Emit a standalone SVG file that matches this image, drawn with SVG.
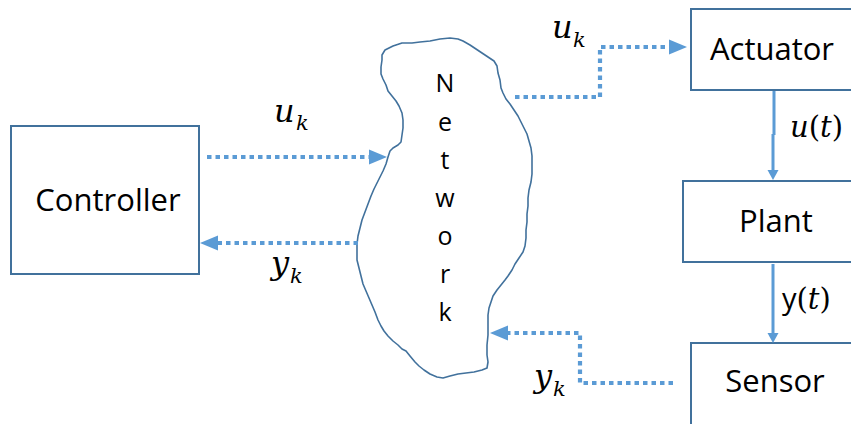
<svg xmlns="http://www.w3.org/2000/svg" width="851" height="424" viewBox="0 0 851 424">
<style>
.box{fill:#ffffff;stroke:#41719C;stroke-width:2}
.lbl{font-family:"Open Sans","Liberation Sans",sans-serif;font-size:31px;fill:#000;text-anchor:middle}
.net{font-family:"Open Sans","Liberation Sans",sans-serif;font-size:25px;fill:#000;text-anchor:middle}
.dot{fill:none;stroke:#5B9BD5;stroke-width:4.2;stroke-dasharray:4.5 4}
.sol{fill:none;stroke:#5B9BD5;stroke-width:3}
.math{font-family:"DejaVu Serif","Liberation Serif",serif;font-style:italic;fill:#000}
.up{font-family:"DejaVu Serif","Liberation Serif",serif;font-style:normal;fill:#000}
</style>
<defs>
<marker id="ahd" markerUnits="userSpaceOnUse" markerWidth="19" markerHeight="16" refX="0" refY="7.5" orient="auto" overflow="visible">
<path d="M0,0 L18,7.5 L0,15 Z" fill="#5B9BD5"/>
</marker>
<marker id="ahs" markerUnits="userSpaceOnUse" markerWidth="11" markerHeight="12" refX="0" refY="5.5" orient="auto" overflow="visible">
<path d="M0,0 L10,5.5 L0,11 Z" fill="#5B9BD5"/>
</marker>
</defs>

<g id="controller">
<rect class="box" x="11" y="126" width="188" height="148"/>
<text class="lbl" x="108" y="211">Controller</text>
</g>

<g id="network">
<path d="M385,50 L393,46 L402,43 L412,43 L420,42 L430,41 L440,39 L450,38 L458,39 L463,41 L470,45 L476,49 L482,53 L488,57 L494,61 L497,66 L498,73 L500,80 L501,88 L503,93 L506,99 L510,104 L514,110 L518,116 L521,122 L524,128 L527,134 L529,141 L531,148 L532,156 L532,165 L532,174 L531,182 L529,190 L528,198 L528,206 L527,214 L527,222 L526,230 L526,238 L525,246 L523,252 L519,258 L515,264 L512,270 L508,276 L505,280 L501,285 L497,290 L493,296 L491,302 L489,308 L488,315 L488,325 L488,335 L487,345 L487,355 L488,362 L487,368 L482,370 L474,372 L466,373 L458,374 L450,376 L443,378 L437,377 L430,374 L424,370 L419,366 L415,362 L410,356 L406,351 L402,349 L398,345 L393,341 L388,336 L384,331 L381,326 L378,320 L375,312 L372,305 L369,298 L366,291 L363,284 L361,276 L359,268 L357,260 L357,252 L357,244 L358,236 L360,228 L362,220 L365,212 L368,204 L371,196 L374,189 L377,183 L380,177 L383,171 L386,164 L388,157 L390,151 L393,148 L398,145 L401,142 L402,135 L403,128 L403,120 L402,113 L399,106 L396,101 L392,96 L388,91 L386,85 L383,79 L381,74 L381,67 L382,60 L382,55 Z" fill="#ffffff" stroke="#41719C" stroke-width="1.6" stroke-linejoin="round"/>
<text class="net" x="445" y="92">N</text>
<text class="net" x="445" y="131">e</text>
<text class="net" x="445" y="169">t</text>
<text class="net" x="445" y="207">w</text>
<text class="net" x="445" y="245">o</text>
<text class="net" x="445" y="283">r</text>
<text class="net" x="445" y="321">k</text>
</g>

<g id="actuator">
<rect class="box" x="691" y="9" width="170" height="81"/>
<text class="lbl" x="772" y="60">Actuator</text>
</g>

<g id="plant">
<rect class="box" x="683" y="181" width="178" height="81"/>
<text class="lbl" x="776" y="232">Plant</text>
</g>

<g id="sensor">
<rect class="box" x="691" y="343" width="170" height="90"/>
<text class="lbl" x="775" y="392">Sensor</text>
</g>

<g id="connectors">
<path class="dot" d="M207,157 H369" marker-end="url(#ahd)"/>
<path class="dot" d="M358,243 H218" marker-end="url(#ahd)"/>
<path class="dot" d="M515,97 H600 V47 H669" marker-end="url(#ahd)"/>
<path class="dot" d="M673,383 H580 V333 H508" marker-end="url(#ahd)"/>
<path class="sol" d="M774,91 V135"/>
<path class="sol" d="M773,134 V170" marker-end="url(#ahs)"/>
<path class="sol" d="M773,264 V333" marker-end="url(#ahs)"/>
</g>

<g id="labels">
<text class="math" x="274" y="122" font-size="32">u</text>
<text class="math" x="296" y="130" font-size="21">k</text>
<text class="math" x="552" y="38" font-size="32">u</text>
<text class="math" x="573" y="47" font-size="21">k</text>
<text class="math" x="271" y="274" font-size="32">y</text>
<text class="math" x="290" y="283" font-size="21">k</text>
<text class="math" x="534" y="387" font-size="32">y</text>
<text class="math" x="553" y="396" font-size="21">k</text>
<text x="790" y="137" font-size="29"><tspan class="math">u</tspan><tspan class="up">(</tspan><tspan class="math">t</tspan><tspan class="up">)</tspan></text>
<text x="782" y="309" font-size="29"><tspan font-family="Open Sans, Liberation Sans, sans-serif" fill="#000">y</tspan><tspan class="up">(</tspan><tspan class="math">t</tspan><tspan class="up">)</tspan></text>
</g>
</svg>
